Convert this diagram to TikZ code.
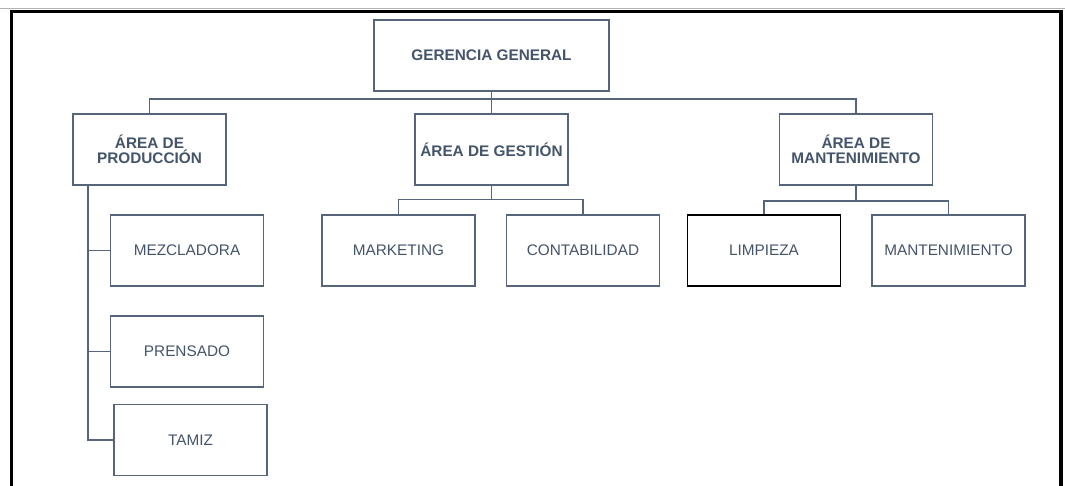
\documentclass[tikz,border=0pt]{standalone}
\usepackage{fontspec}
\setmainfont{Liberation Sans}
\definecolor{txt}{HTML}{44546A}
\definecolor{edge}{HTML}{56657A}
\begin{document}
\begin{tikzpicture}[x=0.75pt,y=-0.75pt,
  box/.style={draw=edge,line width=1.1pt,fill=white,minimum width=114.75pt,minimum height=53.25pt,inner sep=2pt,align=center,text=txt,font=\fontsize{11.5}{12}\selectfont},
  head/.style={box,font=\fontsize{11.5}{12}\selectfont\bfseries},
  conn/.style={draw=edge,line width=1.1pt},
  frame/.style={line width=2.6pt,draw=black}]
\useasboundingbox (0,0) rectangle (1065,486);
\draw[gray!60,line width=0.6pt] (0,8.5) -- (1065,8.5);
\draw[frame] (11.5,486) -- (11.5,11.5) -- (1061,11.5) -- (1061,486);
% nodes
\node[head,minimum width=176.25pt] (gg) at (491.5,55.5) {GERENCIA GENERAL};
\node[head] (prod) at (149.5,149.5) {ÁREA DE\\[-1pt]PRODUCCIÓN};
\node[head] (ges) at (491.5,149.5) {ÁREA DE GESTIÓN};
\node[head] (man) at (856,149.5) {ÁREA DE\\[-1pt]MANTENIMIENTO};
\node[box] (mez) at (187,250.5) {MEZCLADORA};
\node[box] (pre) at (187,351.5) {PRENSADO};
\node[box] (tam) at (190.5,440) {TAMIZ};
\node[box] (mkt) at (398.5,250.5) {MARKETING};
\node[box] (con) at (583,250.5) {CONTABILIDAD};
\node[box,draw=black] (lim) at (764,250.5) {LIMPIEZA};
\node[box] (mnt) at (948.5,250.5) {MANTENIMIENTO};
% bus coordinates
\coordinate (b1) at (0,99);
\coordinate (b2) at (0,199.5);
\coordinate (b3) at (0,201);
\coordinate (pv) at (88,0);
% connectors
\draw[conn] (gg.south) -- (ges.north);
\draw[conn] (prod.north) -- (prod.north |- b1) -- (man.north |- b1) -- (man.north);
\draw[conn] (ges.south) -- (ges.south |- b2);
\draw[conn] (mkt.north) -- (mkt.north |- b2) -- (con.north |- b2) -- (con.north);
\draw[conn] (man.south) -- (man.south |- b3);
\draw[conn] (lim.north) -- (lim.north |- b3) -- (mnt.north |- b3) -- (mnt.north);
\draw[conn] (prod.south -| pv) -- (pv |- tam.west) -- (tam.west);
\draw[conn] (pv |- mez.west) -- (mez.west);
\draw[conn] (pv |- pre.west) -- (pre.west);
\end{tikzpicture}
\end{document}
